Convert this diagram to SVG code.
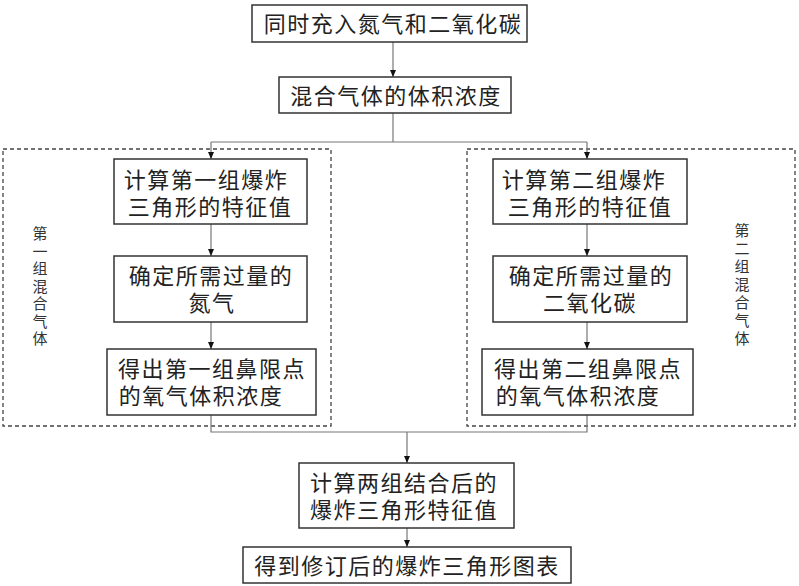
<svg xmlns="http://www.w3.org/2000/svg" width="799" height="586" viewBox="0 0 799 586">
<style>
.box{fill:#fff;stroke:#333;stroke-width:1.5}
.grp{fill:none;stroke:#444;stroke-width:1.3;stroke-dasharray:4 3}
.con{fill:none;stroke:#777;stroke-width:1.2}
.t{font-family:"Liberation Sans","Noto Sans CJK SC",sans-serif;font-size:22px;letter-spacing:1.5px;fill:#222;text-anchor:middle;dominant-baseline:central}
.v{font-family:"Liberation Sans","Noto Sans CJK SC",sans-serif;font-size:15px;fill:#333;text-anchor:middle;dominant-baseline:central}
</style>
<defs>
<marker id="ah" markerUnits="userSpaceOnUse" markerWidth="8" markerHeight="8" refX="7" refY="4" orient="auto">
<path d="M0,1 L7,4 L0,7 Z" fill="#111"/>
</marker>
</defs>
<rect width="799" height="586" fill="#fff"/>
<g id="groups">
<rect id="group1" class="grp" x="3" y="149" width="328" height="277"/>
<rect id="group2" class="grp" x="467" y="149" width="328" height="277"/>
</g>
<g id="connectors">
<line class="con" x1="393" y1="42" x2="393" y2="77" marker-end="url(#ah)"/>
<polyline class="con" points="393,113 393,142"/>
<polyline class="con" points="211,142 587,142"/>
<line class="con" x1="211" y1="142" x2="211" y2="159" marker-end="url(#ah)"/>
<line class="con" x1="587" y1="142" x2="587" y2="159" marker-end="url(#ah)"/>
<line class="con" x1="211" y1="224" x2="211" y2="256" marker-end="url(#ah)"/>
<line class="con" x1="211" y1="322" x2="211" y2="349" marker-end="url(#ah)"/>
<line class="con" x1="587" y1="224" x2="587" y2="256" marker-end="url(#ah)"/>
<line class="con" x1="587" y1="322" x2="587" y2="349" marker-end="url(#ah)"/>
<polyline class="con" points="211,415 211,432 587,432 587,415"/>
<line class="con" x1="407" y1="432" x2="407" y2="463" marker-end="url(#ah)"/>
<line class="con" x1="407" y1="528" x2="407" y2="547" marker-end="url(#ah)"/>
</g>
<g id="n1"><rect class="box" x="252" y="5" width="275" height="37"/><text class="t" x="393" y="24" font-size="23">同时充入氮气和二氧化碳</text></g>
<g id="n2"><rect class="box" x="279" y="77" width="232" height="36"/><text class="t" x="396" y="96" font-size="23">混合气体的体积浓度</text></g>
<g id="n3"><rect class="box" x="114" y="159" width="193" height="65"/><text class="t" y="180"><tspan x="206">计算第一组爆炸</tspan><tspan x="210" dy="27">三角形的特征值</tspan></text></g>
<g id="n4"><rect class="box" x="114" y="256" width="193" height="66"/><text class="t" y="276"><tspan x="211">确定所需过量的</tspan><tspan x="212" dy="27">氮气</tspan></text></g>
<g id="n5"><rect class="box" x="107" y="349" width="209" height="66"/><text class="t" y="369"><tspan x="212">得出第一组鼻限点</tspan><tspan x="201" dy="27">的氧气体积浓度</tspan></text></g>
<g id="n6"><rect class="box" x="493" y="159" width="194" height="65"/><text class="t" y="180"><tspan x="584">计算第二组爆炸</tspan><tspan x="590" dy="27">三角形的特征值</tspan></text></g>
<g id="n7"><rect class="box" x="493" y="256" width="194" height="66"/><text class="t" y="276"><tspan x="591">确定所需过量的</tspan><tspan x="590" dy="27">二氧化碳</tspan></text></g>
<g id="n8"><rect class="box" x="482" y="349" width="211" height="66"/><text class="t" y="369"><tspan x="588">得出第二组鼻限点</tspan><tspan x="578" dy="27">的氧气体积浓度</tspan></text></g>
<g id="n9"><rect class="box" x="299" y="463" width="215" height="65"/><text class="t" y="483"><tspan x="404">计算两组结合后的</tspan><tspan x="404" dy="27">爆炸三角形特征值</tspan></text></g>
<g id="n10"><rect class="box" x="243" y="547" width="328" height="36"/><text class="t" x="407" y="566" font-size="24">得到修订后的爆炸三角形图表</text></g>
<g id="labels">
<text id="label1" class="v" y="233"><tspan x="40">第</tspan><tspan x="40" dy="17.5">一</tspan><tspan x="40" dy="17.5">组</tspan><tspan x="40" dy="17.5">混</tspan><tspan x="40" dy="17.5">合</tspan><tspan x="40" dy="17.5">气</tspan><tspan x="40" dy="17.5">体</tspan></text>
<text id="label2" class="v" y="230"><tspan x="742">第</tspan><tspan x="742" dy="18">二</tspan><tspan x="742" dy="18">组</tspan><tspan x="742" dy="18">混</tspan><tspan x="742" dy="18">合</tspan><tspan x="742" dy="18">气</tspan><tspan x="742" dy="18">体</tspan></text>
</g>
</svg>
